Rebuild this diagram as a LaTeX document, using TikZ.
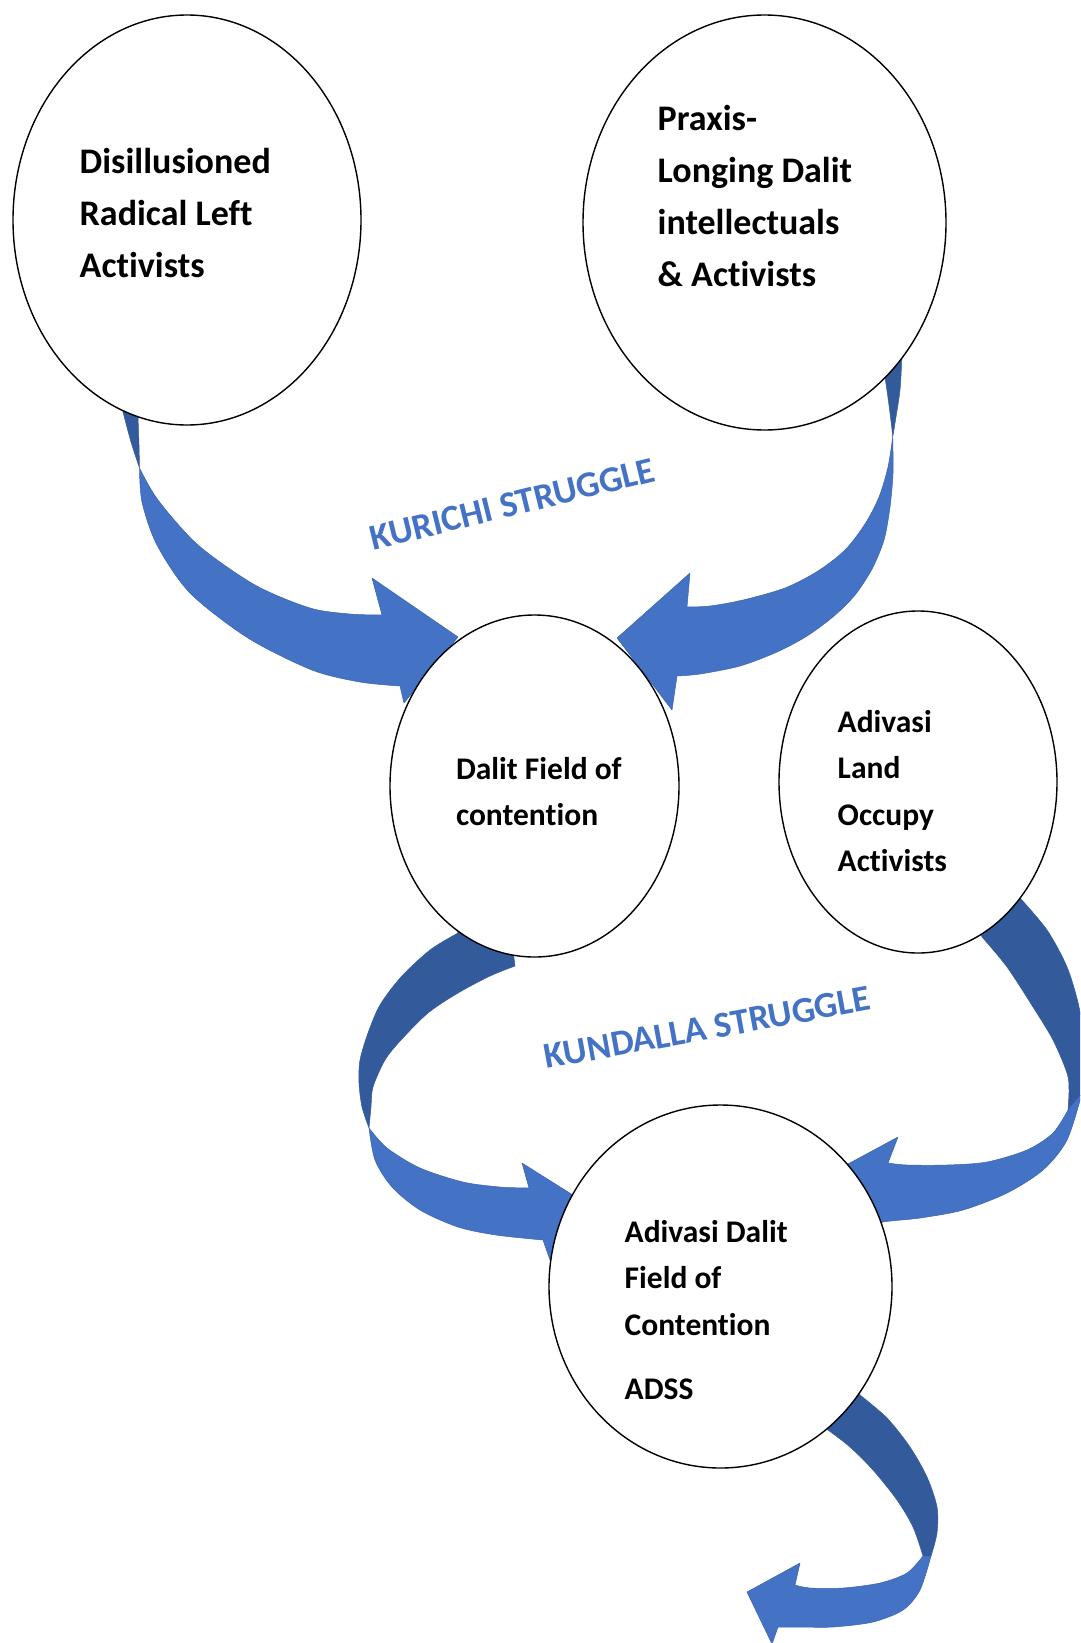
\documentclass[tikz,border=0pt]{standalone}
\usepackage{fontspec}
\setmainfont{Carlito}[Ligatures={NoCommon,NoContextual}]
\usetikzlibrary{shapes.geometric}
\definecolor{ribbonfront}{HTML}{4472C4}
\definecolor{ribbonback}{HTML}{335B9C}
\definecolor{ribbonedge}{HTML}{3A64AE}
\definecolor{wordart}{HTML}{4472C4}
\begin{document}
\begin{tikzpicture}[x=1pt,y=-1pt,
  bubble/.style={ellipse, draw=black, line width=1.4pt, fill=white, inner sep=0pt, outer sep=0pt},
  frontside/.style={fill=ribbonfront, draw=ribbonedge, line width=0.5pt, line join=round},
  backside/.style={fill=ribbonback, draw=ribbonback, line width=0.5pt, line join=round},
  bigtext/.style={anchor=base west, inner sep=0pt, font=\bfseries\fontsize{36}{52}\selectfont},
  smalltext/.style={anchor=base west, inner sep=0pt, font=\bfseries\fontsize{31.5}{46.5}\selectfont},
  struggletext/.style={anchor=base west, inner sep=0pt, text=wordart, font=\bfseries\fontsize{36.5}{43}\selectfont},
]
\useasboundingbox (0,0) rectangle (1080,1643);
\fill[white] (0,0) rectangle (1080,1643);

\begin{scope}
\clip (0,0) rectangle (1080,1643);
% ---- Kurichi arrow from left circle
\path[backside] (121,398) -- (140,402) -- plot[smooth] coordinates {(138,417) (139,445) (139.5,468)}
  -- plot[smooth] coordinates {(139.5,468) (131,442) (123,412)} -- cycle;
\path[frontside] plot[smooth] coordinates {(139.5,468) (142,502) (157,545) (190,593) (248,638) (312,670) (360,682) (400,686)}
  -- (404,703) -- (458,637) -- (372,578) -- (382,615)
  -- plot[smooth] coordinates {(382,615) (350,614) (310,608) (255,585) (198,545) (158,500) (139.5,468)} -- cycle;

% ---- Kurichi arrow from right circle
\path[backside] (880,362) -- (904,345) -- plot[smooth] coordinates {(901.7,360) (900,390) (895,423) (892.7,437)}
  -- plot[smooth] coordinates {(892.7,437) (891.7,427) (888.3,400) (885,377)} -- cycle;
\path[frontside] plot[smooth] coordinates {(892.7,437) (893,473) (890,507) (884,540) (872,569) (855,595) (834,616) (807,636) (777,652) (740,666) (700,674) (677,676)}
  -- (672,710) -- (617,638) -- (690,573) -- (687,607)
  -- plot[smooth] coordinates {(687,607) (710,606) (743,600) (785,588) (818,571) (845,550) (865,524) (879,497) (888,467) (892.7,437)} -- cycle;

% ---- Kundalla arrow from Dalit field
\path[backside] (513,950) -- (452,915) -- plot[smooth] coordinates {(458,933) (430,950) (401,977) (380,1005) (368,1033) (360,1060) (359,1083) (362,1107) (369,1128)}
  -- plot[smooth] coordinates {(369,1128) (371,1107) (373,1087) (385,1060) (401,1040) (428,1013) (458,993) (490,976) (515,966)} -- cycle;
\path[frontside] plot[smooth] coordinates {(369,1128) (375,1160) (392,1187) (420,1210) (458,1227) (496,1235) (543,1240)}
  -- (550,1260) -- (576,1197) -- (522,1163) -- (529,1188)
  -- plot[smooth] coordinates {(529,1188) (500,1187) (463,1182) (420,1168) (387,1148) (369,1128)} -- cycle;

% ---- Kundalla arrow from Adivasi land circle
\path[backside] (978,925) -- (1018,885) -- plot[smooth] coordinates {(1020,898) (1047,930) (1067,967) (1079,1007) (1084,1047) (1082,1093)}
  -- (1068,1110) -- plot[smooth] coordinates {(1068,1110) (1069,1090) (1067,1073) (1053,1040) (1033,1007) (1007,967) (982,937)} -- cycle;
\path[frontside] (1082,1093) -- (1068,1110)
  -- plot[smooth] coordinates {(1068,1110) (1053,1133) (1027,1150) (987,1162) (947,1165) (907,1165) (888,1163)}
  -- (898,1137) -- (835,1171) -- (855,1250) -- (866,1228)
  -- plot[smooth] coordinates {(866,1228) (883,1222) (920,1218) (963,1210) (1007,1193) (1043,1170) (1067,1140) (1082,1093)} -- cycle;

% ---- outgoing arrow at the bottom
\path[backside] (820,1420) -- (858,1380) -- plot[smooth] coordinates {(860,1395) (887,1418) (910,1447) (927,1477) (937,1507) (937,1533) (931,1556)}
  -- (923,1556) -- plot[smooth] coordinates {(923,1556) (913,1527) (897,1500) (873,1470) (850,1447) (828,1430)} -- cycle;
\path[frontside] (931,1556) -- (923,1556)
  -- plot[smooth] coordinates {(923,1556) (907,1573) (880,1583) (843,1588) (810,1588) (795,1585)}
  -- (800,1563) -- (747,1592) -- (772,1644) -- (778,1627)
  -- plot[smooth] coordinates {(778,1627) (800,1627) (833,1627) (873,1622) (903,1610) (920,1590) (931,1556)} -- cycle;
\end{scope}

% ---- circles
\node[bubble, minimum width=348pt, minimum height=410pt] (left) at (187,220) {};
\node[bubble, minimum width=363pt, minimum height=415pt] (praxis) at (764.5,222.5) {};
\node[bubble, minimum width=289pt, minimum height=342pt] (dalit) at (534.5,786) {};
\node[bubble, minimum width=278pt, minimum height=342pt] (adivasi) at (918,782) {};
\node[bubble, minimum width=343pt, minimum height=363pt] (adss) at (720.5,1286.5) {};

% ---- texts
\node[bigtext] (lefttext) at (79.5,173.3) {\begin{tabular}[t]{@{}l@{}}Disillusioned\\Radical Left\\Activists\end{tabular}};
\node[bigtext] (praxistext) at (657.5,130.5) {\begin{tabular}[t]{@{}l@{}}Praxis-\\Longing Dalit\\intellectuals\\\& Activists\end{tabular}};
\node[smalltext] (dalittext) at (455.8,779) {\begin{tabular}[t]{@{}l@{}}Dalit Field of\\contention\end{tabular}};
\node[smalltext] (adivasitext) at (837.5,732) {\begin{tabular}[t]{@{}l@{}}Adivasi\\Land\\Occupy\\Activists\end{tabular}};
\node[smalltext] (adsstext) at (624.5,1242) {\begin{tabular}[t]{@{}l@{}}Adivasi Dalit\\Field of\\Contention\\[17.5pt]ADSS\end{tabular}};

\node[struggletext, rotate=13.8] (kurichi) at (373,550.5) {KURICHI STRUGGLE};
\node[struggletext, rotate=10.3] (kundalla) at (546.5,1069) {KUNDALLA STRUGGLE};
\end{tikzpicture}
\end{document}
